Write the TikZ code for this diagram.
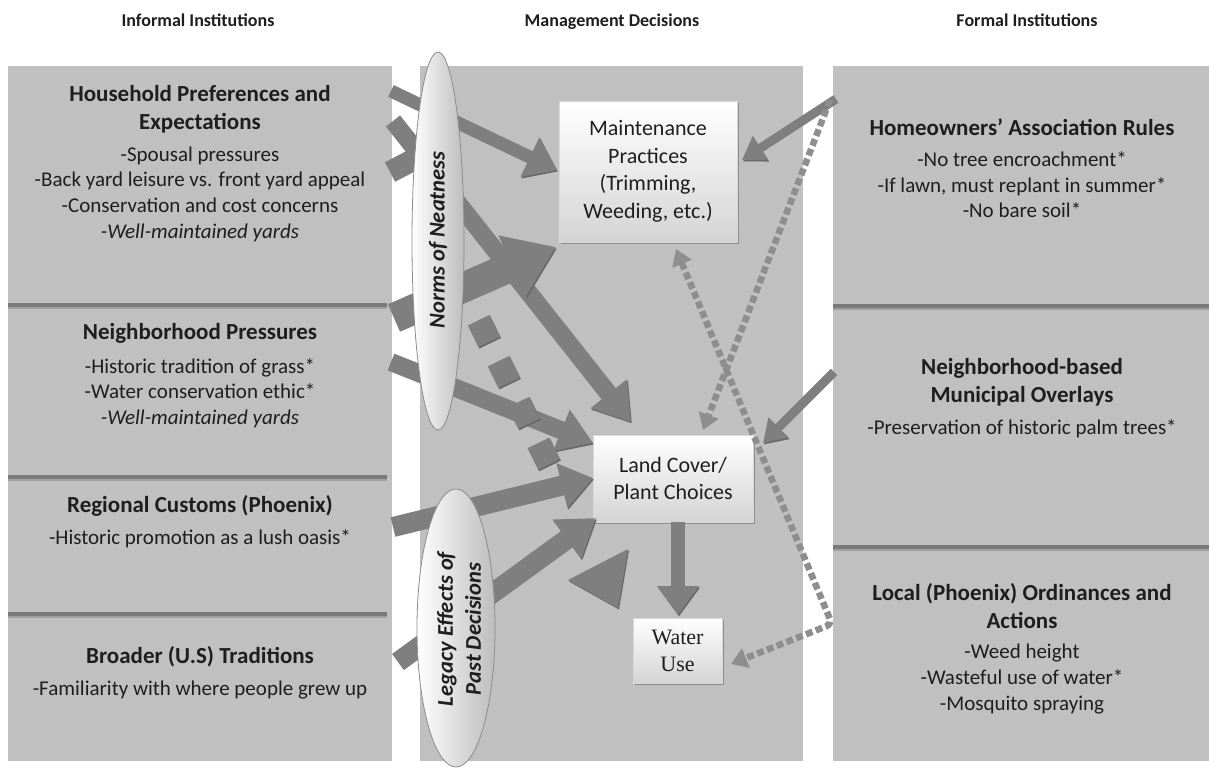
\documentclass[tikz,border=0pt]{standalone}
\usepackage{fontspec}
\setmainfont{Carlito}
\newfontfamily\waterfont{Liberation Serif}
\usetikzlibrary{arrows.meta,shapes.geometric,shadows,calc}
\definecolor{panelgray}{HTML}{C0C0C0}
\definecolor{arrowgray}{HTML}{7F7F7F}
\definecolor{arrowshade}{HTML}{686868}
\definecolor{dotgray}{HTML}{8E8E8E}
\definecolor{divgray}{HTML}{7A7A7A}
\definecolor{divlight}{HTML}{A0A0A0}
\definecolor{txt}{HTML}{1E1E1E}
\definecolor{boxbottom}{HTML}{D4D4D4}
\definecolor{ellright}{HTML}{BDBDBD}
\tikzset{
  hdr/.style={font=\bfseries\fontsize{18}{22}\selectfont, text=txt, inner sep=0pt, anchor=base},
  headtxt/.style={font=\bfseries\fontsize{23}{28}\selectfont, align=center, text=txt, inner sep=0pt},
  bodytxt/.style={font=\fontsize{21}{25.6}\selectfont, align=center, text=txt, inner sep=0pt},
  decbox/.style={rectangle, top color=white, bottom color=boxbottom, draw=white!85!black, line width=0.6pt, align=center, font=\fontsize{22}{27.5}\selectfont, text=txt, drop shadow={shadow xshift=1.5pt, shadow yshift=-2pt, fill=black!50, opacity=0.8}},
  fat/.style={draw=arrowgray, line width=#1, preaction={draw=arrowshade, transform canvas={shift={(1pt,-1.5pt)}}}},
  squaredash/.style={line width=24pt, dash pattern=on 24pt off 21.5pt},
  dotarrow/.style={draw=dotgray, line width=6.5pt, dash pattern=on 7pt off 3.5pt},
  ovalshape/.style={ellipse, draw=black!45, line width=0.8pt, left color=white, right color=ellright, inner sep=0pt},
  ovaltext/.style={font=\bfseries\itshape\fontsize{22.5}{28}\selectfont, align=center, rotate=90, text=txt, inner sep=0pt},
}
\begin{document}
\begin{tikzpicture}[x=1pt,y=-1pt]
\useasboundingbox (0,0) rectangle (1209,769);
\fill[white] (0,0) rectangle (1209,769);
% panels
\fill[panelgray] (8,66) rectangle (392,761);
\fill[panelgray] (420,66) rectangle (803,761);
\fill[panelgray] (833,66) rectangle (1209,761);
% dividers
\foreach \yy in {305,477,614} {
  \fill[divlight] (8,\yy+1) rectangle (387,\yy+4);
  \draw[divgray, line width=3.5pt] (8,\yy) -- (387,\yy);
}
\foreach \yy in {306,547} {
  \fill[divlight] (833,\yy+1) rectangle (1209,\yy+4);
  \draw[divgray, line width=3.5pt] (833,\yy) -- (1209,\yy);
}
% headers
\node[hdr] (hInf) at (198,26) {Informal Institutions};
\node[hdr] (hMan) at (612,26) {Management Decisions};
\node[hdr] (hFor) at (1027,26) {Formal Institutions};
% left texts
\node[headtxt] (houseH) at (200,109) {Household Preferences and\\Expectations};
\node[bodytxt] (houseB) at (200,194) {-Spousal pressures\\-Back yard leisure vs. front yard appeal\\-Conservation and cost concerns\\\textit{-Well-maintained yards}};
\node[headtxt] (neighH) at (200,333) {Neighborhood Pressures};
\node[bodytxt] (neighB) at (200,393) {-Historic tradition of grass*\\-Water conservation ethic*\\\textit{-Well-maintained yards}};
\node[headtxt] (regH) at (200,506) {Regional Customs (Phoenix)};
\node[bodytxt] (regB) at (200,539) {-Historic promotion as a lush oasis*};
\node[headtxt] (broadH) at (200,657) {Broader (U.S) Traditions};
\node[bodytxt] (broadB) at (200,690) {-Familiarity with where people grew up};
% right texts
\node[headtxt] (hoaH) at (1022,127) {Homeowners’ Association Rules};
\node[bodytxt] (hoaB) at (1022,185) {-No tree encroachment*\\-If lawn, must replant in summer*\\-No bare soil*};
\node[headtxt] (muniH) at (1022,382) {Neighborhood-based\\Municipal Overlays};
\node[bodytxt] (muniB) at (1022,429) {-Preservation of historic palm trees*};
\node[headtxt] (locH) at (1022,606) {Local (Phoenix) Ordinances and\\Actions};
\node[bodytxt] (locB) at (1022,679) {-Weed height\\-Wasteful use of water*\\-Mosquito spraying};
% decision boxes
\node[decbox, minimum width=178pt, minimum height=141pt] (maint) at (648,171.5) {Maintenance\\Practices\\(Trimming,\\Weeding, etc.)};
\node[decbox, minimum width=160pt, minimum height=87pt] (land) at (673,478.5) {Land Cover/\\Plant Choices};
\node[decbox, minimum width=89pt, minimum height=65pt, font=\waterfont\fontsize{22}{27}\selectfont] (water) at (677.5,650.5) {Water\\Use};
% coordinates
\coordinate (a1s) at (391,91);   \coordinate (a1e) at (557,170);
\coordinate (a2s) at (393,121);  \coordinate (a2e) at (631,422);
\coordinate (a3s) at (390,172);  \coordinate (a3e) at (440,146);
\coordinate (a4s) at (394,318);  \coordinate (a4e) at (556,247);
\coordinate (a5s) at (391,362);  \coordinate (a5e) at (593,443);
\coordinate (a6s) at (393,527);  \coordinate (a6e) at (593,478);
\coordinate (a7s) at (398,662);  \coordinate (a7e) at (596,518);
\coordinate (a8s) at (678,522);  \coordinate (a8e) at (678,615);
\coordinate (a9s) at (836,99);   \coordinate (a9e) at (742,160);
\coordinate (a10s) at (834,372); \coordinate (a10e) at (763,443);
\coordinate (t1) at (568,580); \coordinate (t2) at (628,549); \coordinate (t3) at (618,608);
\coordinate (sq1) at (478.7,320.2); \coordinate (sq2) at (549,464.5);
\coordinate (d1s) at (830,100); \coordinate (d1e) at (703,430);
\coordinate (d2a) at (676,249); \coordinate (d2c) at (832,624); \coordinate (d2b) at (731,664);
% thick arrows
\draw[fat=13pt,-{Triangle[width=42pt,length=30pt]}] (a1s) -- (a1e);
\draw[fat=18pt,-{Triangle[width=44pt,length=36pt]}] (a2s) -- (a2e);
\draw[fat=22pt] (a3s) -- (a3e);
\draw[fat=30pt,-{Triangle[width=64pt,length=48pt]}] (a4s) -- (a4e);
\draw[fat=18pt,-{Triangle[width=42pt,length=34pt]}] (a5s) -- (a5e);
\draw[fat=20pt,-{Triangle[width=44pt,length=32pt]}] (a6s) -- (a6e);
\draw[fat=20pt,-{Triangle[width=46pt,length=36pt]}] (a7s) -- (a7e);
\draw[fat=14pt,-{Triangle[width=40pt,length=29pt]}] (a8s) -- (a8e);
\draw[fat=9pt,-{Triangle[width=27pt,length=22pt]}] (a9s) -- (a9e);
\draw[fat=9pt,-{Triangle[width=27pt,length=22pt]}] (a10s) -- (a10e);
\fill[arrowgray, preaction={fill=arrowshade, transform canvas={shift={(1pt,-1.5pt)}}}] (t1) -- (t2) -- (t3) -- cycle;
\begin{scope}[transform canvas={shift={(1pt,-1.5pt)}}]
  \draw[squaredash, draw=arrowshade] (sq1) -- (sq2);
\end{scope}
\draw[squaredash, draw=arrowgray] (sq1) -- (sq2);
% dotted arrows
\draw[dotarrow,-{Triangle[width=20pt,length=16pt]}] (d1s) -- (d1e);
\draw[dotarrow,{Triangle[width=20pt,length=16pt]}-{Triangle[width=20pt,length=16pt]}, rounded corners=6pt] (d2a) -- (d2c) -- (d2b);
% ellipses
\node[ovalshape, minimum width=52pt, minimum height=378pt] (norms) at (438,241) {};
\node[ovaltext] (normsT) at (438,240) {Norms of Neatness};
\node[ovalshape, minimum width=78pt, minimum height=278pt] (legacy) at (456,628) {};
\node[ovaltext] (legacyT) at (459,629) {Legacy Effects of\\Past Decisions};
\end{tikzpicture}
\end{document}
